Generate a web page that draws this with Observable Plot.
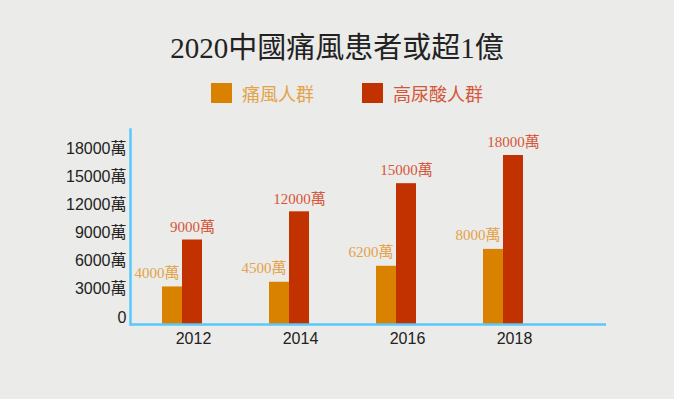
<!DOCTYPE html>
<html>
<head>
<meta charset="utf-8">
<script src="https://cdn.jsdelivr.net/npm/d3@7"></script>
<script src="https://cdn.jsdelivr.net/npm/@observablehq/plot@0.6"></script>
<style>
  html, body { margin: 0; padding: 0; background: #ebebe9; }
  #wrap { position: relative; width: 674px; height: 399px; overflow: hidden; background: #ebebe9; }
  #chart { position: absolute; left: 0; top: 0; }
  #title { position: absolute; left: 0; width: 674px; top: 28px; text-align: center;
    font-family: "Liberation Serif", "Noto Sans CJK TC", serif; font-size: 29px; color: #222; line-height: 40px; }
  #legend { position: absolute; top: 82px; left: 211px; font-family: "Liberation Serif", "Noto Sans CJK TC", serif; font-size: 18px; }
  .item { position: absolute; top: 0; white-space: nowrap; display: flex; align-items: center; height: 21px; }
  .sw { width: 21px; height: 20px; display: inline-block; margin-right: 10px; }
</style>
</head>
<body>
<div id="wrap">
  <div id="chart"></div>
  <div id="title"></div>
  <div id="legend"></div>
</div>
<script>
const title = "2020中國痛風患者或超1億";
const years = ["2012", "2014", "2016", "2018"];
const seriesNames = ["痛風人群", "高尿酸人群"];
const goutValues = [4000, 4500, 6200, 8000];
const hyperValues = [9000, 12000, 15000, 18000];
const yTicks = [0, 3000, 6000, 9000, 12000, 15000, 18000];
const unit = "萬";
const barColors = ["#d98200", "#c23100"];
const textColors = ["#e4a24a", "#d5563a"];

const gout = years.map((y, i) => ({year: y, value: goutValues[i]}));
const hyper = years.map((y, i) => ({year: y, value: hyperValues[i]}));

document.getElementById("title").textContent = title;
const legend = document.getElementById("legend");
const legendOffsets = [0, 151];
seriesNames.forEach((name, i) => {
  const d = document.createElement("div");
  d.className = "item";
  d.style.left = legendOffsets[i] + "px";
  d.innerHTML = `<span class="sw" style="background:${barColors[i]}"></span><span style="color:${textColors[i]}">${name}</span>`;
  legend.appendChild(d);
});

const fmt = d => d === 0 ? "0" : d + unit;
const axisBlue = "#5ac8fa";

const chart = Plot.plot({
  width: 674,
  height: 399,
  marginLeft: 130,
  marginRight: 68,
  marginTop: 129,
  marginBottom: 75,
  style: {background: "transparent", overflow: "visible"},
  x: {domain: years, paddingInner: 0.627, paddingOuter: 0.534, align: 0.28, axis: null, label: null},
  y: {domain: [0, 20770], axis: null, label: null},
  marks: [
    Plot.barY(gout, {x: "year", y: "value", fill: barColors[0], insetRight: 20}),
    Plot.barY(hyper, {x: "year", y: "value", fill: barColors[1], insetLeft: 20}),
    Plot.text(gout, {x: "year", y: "value", text: d => d.value + unit, textAnchor: "end", dx: -3, dy: -14,
      fill: textColors[0], fontSize: 15, fontFamily: "Liberation Serif, Noto Sans CJK TC, serif"}),
    Plot.text(hyper, {x: "year", y: "value", text: d => d.value + unit, dx: 10, dy: -13,
      fill: textColors[1], fontSize: 15, fontFamily: "Liberation Serif, Noto Sans CJK TC, serif"}),
    Plot.axisY({ticks: yTicks, tickFormat: fmt, tickSize: 0, tickPadding: 4, dy: -7, label: null,
      fontSize: 16, fill: "#222", fontFamily: "Liberation Sans, Noto Sans CJK TC, sans-serif"}),
    Plot.axisX({tickSize: 0, tickPadding: 8, dx: 11, label: null, fontSize: 16, fill: "#222",
      fontFamily: "Liberation Sans, Noto Sans CJK TC, sans-serif"}),
    Plot.frame({anchor: "left", stroke: axisBlue, strokeWidth: 2.5}),
    Plot.ruleY([0], {stroke: axisBlue, strokeWidth: 2.5})
  ]
});
document.getElementById("chart").appendChild(chart);
</script>
</body>
</html>
